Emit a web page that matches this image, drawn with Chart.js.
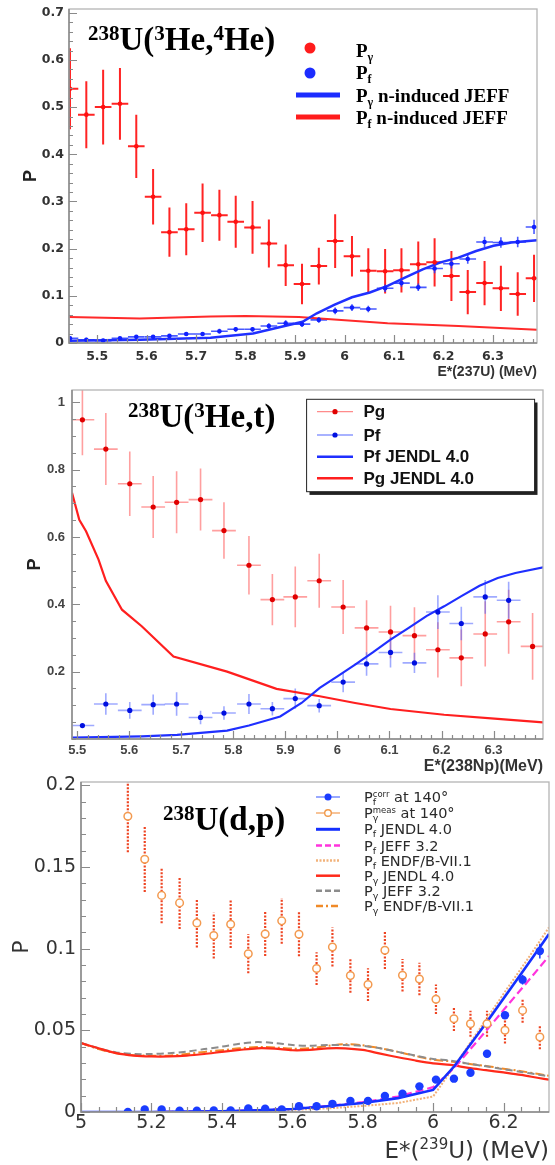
<!DOCTYPE html>
<html><head><meta charset="utf-8">
<script src="https://cdn.jsdelivr.net/npm/chart.js@4.4.1/dist/chart.umd.min.js"></script>
<style>
html,body{margin:0;padding:0;background:#fff;}
body{width:555px;height:1165px;position:relative;overflow:hidden;}
canvas{position:absolute;left:0;}
</style></head><body>
<canvas id="c1" width="555" height="385" style="top:0px"></canvas>
<canvas id="c2" width="555" height="390" style="top:385px"></canvas>
<canvas id="c3" width="555" height="390" style="top:775px"></canvas>
<script>
// ================= Panel 1 : 238U(3He,4He) =================
const P1_E = [5.445,5.478,5.512,5.546,5.579,5.613,5.646,5.680,5.713,5.747,5.780,5.814,5.847,5.881,5.914,5.948,5.981,6.015,6.048,6.082,6.115,6.149,6.182,6.216,6.249,6.283,6.316,6.350,6.383];
const P1_PG = [0.539,0.484,0.500,0.507,0.417,0.310,0.235,0.241,0.276,0.271,0.257,0.245,0.211,0.165,0.125,0.163,0.216,0.184,0.153,0.152,0.154,0.167,0.171,0.142,0.108,0.127,0.116,0.104,0.137];
const P1_PG_ERR = [0.086,0.071,0.079,0.076,0.067,0.059,0.052,0.055,0.062,0.054,0.055,0.056,0.051,0.044,0.043,0.039,0.057,0.043,0.048,0.047,0.047,0.048,0.051,0.053,0.047,0.047,0.048,0.046,0.050];
const P1_PF = [0.010,0.007,0.005,0.010,0.013,0.013,0.015,0.019,0.019,0.025,0.029,0.029,0.036,0.042,0.040,0.049,0.068,0.075,0.072,0.116,0.127,0.118,0.158,0.168,0.178,0.214,0.213,0.214,0.246];
const P1_PF_ERR = [0.004,0.004,0.004,0.004,0.004,0.004,0.004,0.004,0.004,0.005,0.005,0.005,0.006,0.006,0.006,0.006,0.007,0.007,0.007,0.008,0.008,0.008,0.010,0.010,0.010,0.011,0.011,0.011,0.015];
const P1_BLUE_E = [5.443,5.586,5.729,5.815,5.915,5.944,5.979,6.015,6.051,6.087,6.123,6.158,6.194,6.230,6.266,6.301,6.337,6.389];
const P1_BLUE = [0.005,0.007,0.011,0.020,0.045,0.063,0.081,0.097,0.107,0.121,0.139,0.156,0.171,0.181,0.195,0.206,0.213,0.218];
const P1_RED_E = [5.443,5.586,5.729,5.800,5.908,5.979,6.087,6.230,6.389];
const P1_RED = [0.055,0.052,0.056,0.057,0.055,0.050,0.042,0.036,0.028];
const P1_XTICKS = [5.5,5.6,5.7,5.8,5.9,6.0,6.1,6.2,6.3];
const P1_YTICKS = [0,0.1,0.2,0.3,0.4,0.5,0.6,0.7];

// ================= Panel 2 : 238U(3He,t) =================
const P2_E = [5.510,5.555,5.601,5.646,5.691,5.737,5.782,5.830,5.875,5.919,5.965,6.011,6.056,6.102,6.148,6.193,6.238,6.284,6.329,6.375];
const P2_PG = [0.948,0.861,0.758,0.689,0.703,0.711,0.619,0.516,0.414,0.422,0.470,0.392,0.330,0.318,0.307,0.265,0.241,0.312,0.348,0.275];
const P2_PG_ERR = [0.105,0.107,0.096,0.092,0.092,0.092,0.084,0.087,0.076,0.090,0.080,0.080,0.082,0.078,0.084,0.082,0.084,0.097,0.095,0.099];
const P2_PF = [0.040,0.104,0.085,0.102,0.104,0.064,0.077,0.104,0.090,0.120,0.099,0.169,0.223,0.257,0.226,0.377,0.343,0.422,0.412];
const P2_PF_ERR = [0.004,0.032,0.025,0.030,0.035,0.020,0.020,0.030,0.020,0.030,0.020,0.030,0.035,0.045,0.030,0.050,0.050,0.050,0.055];
const P2_PF_JENDL_E = [5.490,5.624,5.692,5.788,5.830,5.890,5.931,5.966,6.000,6.034,6.068,6.102,6.137,6.171,6.205,6.239,6.273,6.308,6.342,6.398];
const P2_PF_JENDL = [0.004,0.008,0.012,0.025,0.040,0.067,0.107,0.152,0.186,0.221,0.257,0.295,0.330,0.365,0.394,0.425,0.455,0.478,0.493,0.511];
const P2_PG_JENDL_E = [5.490,5.504,5.517,5.541,5.555,5.586,5.624,5.685,5.788,5.883,5.966,6.034,6.102,6.205,6.308,6.398];
const P2_PG_JENDL = [0.731,0.651,0.617,0.533,0.470,0.384,0.335,0.245,0.200,0.149,0.127,0.107,0.089,0.072,0.060,0.049];
const P2_XTICKS = [5.5,5.6,5.7,5.8,5.9,6.0,6.1,6.2,6.3];
const P2_YTICKS = [0.2,0.4,0.6,0.8,1.0];

// ================= Panel 3 : 238U(d,p) =================
const P3_E = [5.133,5.181,5.229,5.280,5.329,5.377,5.425,5.475,5.523,5.570,5.619,5.669,5.714,5.765,5.815,5.863,5.913,5.961,6.008,6.059,6.106,6.153,6.204,6.254,6.303];
const P3_PG_MEAS = [0.181,0.1547,0.1326,0.128,0.1157,0.108,0.1149,0.0969,0.109,0.117,0.1088,0.0878,0.101,0.0835,0.078,0.099,0.0837,0.0814,0.069,0.0571,0.054,0.054,0.050,0.0622,0.0459];
const P3_PG_MEAS_ERR = [0.022,0.020,0.017,0.016,0.015,0.014,0.0145,0.012,0.0135,0.014,0.0135,0.010,0.012,0.0105,0.010,0.0115,0.010,0.010,0.009,0.0075,0.008,0.008,0.008,0.0075,0.0075];
const P3_PF_CORR = [0.0,0.0015,0.0015,0.0008,0.0008,0.001,0.001,0.0022,0.002,0.0015,0.0035,0.0035,0.005,0.0068,0.0068,0.0098,0.0112,0.0157,0.0198,0.0204,0.024,0.0357,0.0592,0.081,0.0985];
const P3_PF_CORR_ERR = [0.0005,0.0005,0.0005,0.0005,0.0005,0.0005,0.0005,0.0005,0.0005,0.0005,0.0005,0.0005,0.0006,0.0006,0.0006,0.0008,0.0008,0.001,0.001,0.001,0.0012,0.0015,0.002,0.003,0.0045];
const P3_PF_E = [5.0,5.1,5.2,5.3,5.4,5.5,5.6,5.7,5.8,5.9,6.0,6.06,6.15,6.21,6.26,6.30,6.329];
const P3_PF_JENDL = [0,0,0,0.0002,0.0005,0.001,0.0018,0.0035,0.0055,0.0085,0.0135,0.028,0.0543,0.0725,0.0877,0.0999,0.109];
const P3_PF_JEFF = [0,0,0,0.0002,0.0005,0.0011,0.002,0.0037,0.006,0.0095,0.0152,0.027,0.0496,0.065,0.0777,0.088,0.0955];
const P3_PF_ENDF = [0,0,0,0.0002,0.0004,0.0008,0.0013,0.0022,0.0037,0.0055,0.0095,0.028,0.0565,0.0755,0.091,0.1037,0.113];
const P3_PG_E = [5.0,5.05,5.1,5.15,5.2,5.25,5.3,5.35,5.4,5.45,5.5,5.55,5.6,5.65,5.7,5.75,5.8,5.85,5.9,5.95,6.0,6.05,6.1,6.15,6.2,6.25,6.3,6.329];
const P3_PG_JENDL = [0.0422,0.039,0.036,0.0345,0.034,0.034,0.0345,0.0355,0.0368,0.038,0.039,0.0388,0.0378,0.038,0.039,0.039,0.038,0.0357,0.0335,0.0315,0.0298,0.0288,0.027,0.0256,0.0242,0.0227,0.0208,0.0198];
const P3_PG_JEFF = [0.0422,0.039,0.0365,0.0355,0.0355,0.036,0.037,0.0385,0.040,0.0418,0.0428,0.0422,0.041,0.0405,0.041,0.041,0.0405,0.039,0.0368,0.0345,0.0325,0.0315,0.0296,0.028,0.0262,0.0245,0.0228,0.0218];
const P3_PG_ENDF = [0.0422,0.0385,0.036,0.0348,0.0345,0.0345,0.0355,0.0368,0.0378,0.039,0.0398,0.0395,0.0388,0.039,0.0405,0.0415,0.0408,0.039,0.0368,0.0343,0.032,0.031,0.0295,0.0282,0.0265,0.025,0.0232,0.0222];
const P3_XTICKS = [5.0,5.2,5.4,5.6,5.8,6.0,6.2];
const P3_YTICKS = [0,0.05,0.1,0.15,0.2];

// ---------------- helpers ----------------
const pts = (xs, ys) => ys.map((v, i) => ({x: xs[i], y: v}));
const fmt = v => String(parseFloat(Number(v).toFixed(3)));

function richWidth(ctx, runs){ let w = 0; runs.forEach(r => { ctx.font = r.f; const m = ctx.measureText(r.t).width; if (r.adv !== false) w += m; }); return w; }
function drawRich(ctx, x, y, runs, align, color){
  ctx.save(); ctx.fillStyle = color || '#000'; ctx.textAlign = 'left'; ctx.textBaseline = 'alphabetic';
  let cx = align === 'right' ? x - richWidth(ctx, runs) : x;
  runs.forEach(r => { ctx.font = r.f; ctx.fillText(r.t, cx, y + (r.dy || 0)); if (r.adv !== false) cx += ctx.measureText(r.t).width; });
  ctx.restore();
}
function sampleLine(ctx, x1, x2, y, color, w, dash){
  ctx.save(); ctx.strokeStyle = color; ctx.lineWidth = w; ctx.setLineDash(dash || []);
  ctx.beginPath(); ctx.moveTo(x1, y); ctx.lineTo(x2, y); ctx.stroke(); ctx.restore();
}
function dot(ctx, x, y, r, fill, stroke, lw){
  ctx.save(); ctx.beginPath(); ctx.arc(x, y, r, 0, Math.PI * 2);
  if (fill) { ctx.fillStyle = fill; ctx.fill(); }
  if (stroke) { ctx.strokeStyle = stroke; ctx.lineWidth = lw || 1; ctx.stroke(); }
  ctx.restore();
}

// frame + inward ticks (ROOT style)
const frameTicks = {
  id: 'frameTicks',
  afterDatasetsDraw(chart, args, o){
    const {ctx, chartArea: a, scales: {x, y}} = chart;
    ctx.save();
    ctx.strokeStyle = o.frameColor; ctx.lineWidth = 1.3;
    ctx.strokeRect(a.left, a.top, a.right - a.left, a.bottom - a.top);
    ctx.strokeStyle = o.axisColor; ctx.lineWidth = 1.5;
    ctx.beginPath(); ctx.moveTo(a.left, a.top); ctx.lineTo(a.left, a.bottom); ctx.lineTo(a.right, a.bottom); ctx.stroke();
    ctx.strokeStyle = o.tickColor; ctx.lineWidth = 1.2;
    const isMajor = (v, arr) => arr.some(m => Math.abs(m - v) < 1e-6);
    const xMaj = x.ticks.map(t => t.value), yMaj = y.ticks.map(t => t.value);
    ctx.beginPath();
    for (let k = Math.ceil(x.min / o.xMinor - 1e-6); k * o.xMinor <= x.max + 1e-9; k++) {
      const v = k * o.xMinor; const px = Math.round(x.getPixelForValue(v)) + 0.5;
      const L = isMajor(v, xMaj) ? o.major : o.minor;
      ctx.moveTo(px, a.bottom); ctx.lineTo(px, a.bottom - L);
    }
    for (let k = Math.ceil(y.min / o.yMinor - 1e-6); k * o.yMinor <= y.max + 1e-9; k++) {
      const v = k * o.yMinor; const py = Math.round(y.getPixelForValue(v)) + 0.5;
      const L = isMajor(v, yMaj) ? o.major : o.minor;
      ctx.moveTo(a.left, py); ctx.lineTo(a.left + L, py);
    }
    ctx.stroke();
    ctx.restore();
  }
};

// error bars drawn through the scales
const errorBars = {
  id: 'errorBars',
  beforeDatasetsDraw(chart){
    const {ctx, chartArea: a, scales: {x, y}} = chart;
    ctx.save(); ctx.beginPath(); ctx.rect(a.left, a.top, a.right - a.left, a.bottom - a.top); ctx.clip();
    chart.data.datasets.forEach(ds => {
      if (!ds.errY) return;
      ctx.strokeStyle = ds.errColor; ctx.lineWidth = ds.errWidth; ctx.setLineDash(ds.errDash || []);
      ds.data.forEach((p, i) => {
        const px = x.getPixelForValue(p.x), py = y.getPixelForValue(p.y), e = ds.errY[i];
        ctx.beginPath();
        ctx.moveTo(px, y.getPixelForValue(p.y - e)); ctx.lineTo(px, y.getPixelForValue(p.y + e));
        if (ds.errX) { ctx.moveTo(x.getPixelForValue(p.x - ds.errX), py); ctx.lineTo(x.getPixelForValue(p.x + ds.errX), py); }
        ctx.stroke();
      });
    });
    ctx.restore();
  }
};

function axes(o){
  return {
    x: { type: 'linear', min: o.xmin, max: o.xmax,
      afterBuildTicks: s => { s.ticks = o.xticks.map(v => ({value: v})); },
      afterFit: s => { s.height = o.xh; s.paddingLeft = 0; s.paddingRight = 0; },
      grid: {display: false, drawTicks: false}, border: {display: false},
      ticks: {font: o.tickFont, color: o.tickColor, padding: o.xpad, maxRotation: 0, autoSkip: false, callback: v => fmt(v)} },
    y: { type: 'linear', min: o.ymin, max: o.ymax,
      afterBuildTicks: s => { s.ticks = o.yticks.map(v => ({value: v})); },
      afterFit: s => { s.width = o.yw; s.paddingTop = 0; s.paddingBottom = 0; },
      grid: {display: false, drawTicks: false}, border: {display: false},
      ticks: {font: o.tickFont, color: o.tickColor, padding: o.ypad, autoSkip: false, callback: v => fmt(v)},
      title: {display: true, text: 'P', font: o.pFont, color: o.pColor, padding: {top: o.pPad, bottom: 0}} }
  };
}
const baseOpts = {animation: false, responsive: false, devicePixelRatio: 1, events: []};

// ---------------- Panel 1 ----------------
const p1Deco = {
  id: 'p1Deco',
  afterDraw(chart){
    const ctx = chart.ctx;
    const big = 'bold 33px "Liberation Serif"', sup = 'bold 21px "Liberation Serif"';
    drawRich(ctx, 88, 50, [{t:'238', f:sup, dy:-10},{t:'U(', f:big},{t:'3', f:sup, dy:-10},{t:'He,', f:big},{t:'4', f:sup, dy:-10},{t:'He)', f:big}], 'left', '#000');
    dot(ctx, 310, 48, 5.5, '#ff1c1c');
    dot(ctx, 310, 73, 5.5, '#1c2cff');
    sampleLine(ctx, 296, 340, 95, '#1c2cff', 5);
    sampleLine(ctx, 296, 340, 117, '#ff1c1c', 5);
    const lf = 'bold 19px "Liberation Serif"', sf = 'bold 12px "Liberation Serif"';
    drawRich(ctx, 356, 57, [{t:'P', f:lf},{t:'γ', f:sf, dy:4}], 'left', '#000');
    drawRich(ctx, 356, 79, [{t:'P', f:lf},{t:'f', f:sf, dy:4}], 'left', '#000');
    drawRich(ctx, 356, 102, [{t:'P', f:lf},{t:'γ', f:sf, dy:4},{t:' n-induced JEFF', f:lf}], 'left', '#000');
    drawRich(ctx, 356, 124, [{t:'P', f:lf},{t:'f', f:sf, dy:4},{t:' n-induced JEFF', f:lf}], 'left', '#000');
    drawRich(ctx, chart.chartArea.right, 376, [{t:'E*(237U) (MeV)', f:'bold 14px "Liberation Sans"'}], 'right', '#333');
  }
};
new Chart(document.getElementById('c1'), {
  type: 'scatter',
  data: { datasets: [
    {data: pts(P1_E, P1_PG), errY: P1_PG_ERR, errX: 0.0168, errColor: '#ff2424', errWidth: 2, pointRadius: 2.3, pointBackgroundColor: '#ff1010', pointBorderWidth: 0, showLine: false},
    {data: pts(P1_E, P1_PF), errY: P1_PF_ERR, errX: 0.0168, errColor: 'rgba(40,60,255,0.85)', errWidth: 1.6, pointRadius: 2.3, pointBackgroundColor: '#1020ff', pointBorderWidth: 0, showLine: false},
    {data: pts(P1_BLUE_E, P1_BLUE), showLine: true, borderColor: '#2030ff', borderWidth: 2.5, pointRadius: 0, tension: 0},
    {data: pts(P1_RED_E, P1_RED), showLine: true, borderColor: '#ff2a2a', borderWidth: 2, pointRadius: 0, tension: 0}
  ]},
  options: Object.assign({}, baseOpts, {
    layout: {padding: {top: 9, right: 18, left: 0, bottom: 0}},
    scales: axes({xmin: 5.443, xmax: 6.389, ymin: 0, ymax: 0.708, xticks: P1_XTICKS, yticks: P1_YTICKS, xh: 42, yw: 69,
      tickFont: {family: 'DejaVu Sans', size: 12.5, weight: 'bold'}, tickColor: '#333', xpad: 6, ypad: 5,
      pFont: {family: 'Liberation Sans', size: 18, weight: 'bold'}, pColor: '#222', pPad: 20}),
    plugins: {legend: {display: false}, tooltip: {enabled: false},
      frameTicks: {frameColor: '#b4b4b4', axisColor: '#8a8a8a', tickColor: '#8a8a8a', xMinor: 0.02, yMinor: 0.02, major: 8, minor: 4}}
  }),
  plugins: [errorBars, frameTicks, p1Deco]
});

// ---------------- Panel 2 ----------------
const p2Deco = {
  id: 'p2Deco',
  afterDraw(chart){
    const ctx = chart.ctx, oy = 385; // canvas offset on page
    const big = 'bold 33px "Liberation Serif"', sup = 'bold 21px "Liberation Serif"';
    drawRich(ctx, 128, 426.7 - oy, [{t:'238', f:sup, dy:-10},{t:'U(', f:big},{t:'3', f:sup, dy:-10},{t:'He,t)', f:big}], 'left', '#000');
    // legend box with shadow
    ctx.save();
    ctx.fillStyle = '#222'; ctx.fillRect(309.5, 402.5 - oy, 228, 92.4);
    ctx.fillStyle = '#fff'; ctx.fillRect(306.6, 399.3 - oy, 228, 92.4);
    ctx.strokeStyle = '#222'; ctx.lineWidth = 1; ctx.strokeRect(306.6, 399.3 - oy, 228, 92.4);
    ctx.restore();
    const rows = [411.7, 435, 456.7, 478.3].map(v => v - oy);
    sampleLine(ctx, 317, 353, rows[0], 'rgba(255,90,90,0.7)', 1.3); dot(ctx, 335, rows[0], 2.6, '#e00000');
    sampleLine(ctx, 317, 353, rows[1], 'rgba(90,110,255,0.7)', 1.3); dot(ctx, 335, rows[1], 2.6, '#0010e0');
    sampleLine(ctx, 317, 353, rows[2], '#1f2fff', 2.5);
    sampleLine(ctx, 317, 353, rows[3], '#ff1f1f', 2.5);
    ctx.save(); ctx.font = 'bold 17px "Liberation Sans"'; ctx.fillStyle = '#111'; ctx.textBaseline = 'middle';
    ['Pg', 'Pf', 'Pf JENDL 4.0', 'Pg JENDL 4.0'].forEach((t, i) => ctx.fillText(t, 363.5, rows[i] + 1));
    ctx.restore();
    drawRich(ctx, chart.chartArea.right, 771 - oy, [{t:'E*(238Np)(MeV)', f:'bold 16px "Liberation Sans"'}], 'right', '#333');
  }
};
new Chart(document.getElementById('c2'), {
  type: 'scatter',
  data: { datasets: [
    {data: pts(P2_E, P2_PG), errY: P2_PG_ERR, errX: 0.0228, errColor: 'rgba(255,80,80,0.55)', errWidth: 1.6, pointRadius: 2.6, pointBackgroundColor: '#e00000', pointBorderWidth: 0, showLine: false},
    {data: pts(P2_E, P2_PF), errY: P2_PF_ERR, errX: 0.0228, errColor: 'rgba(80,100,255,0.55)', errWidth: 1.6, pointRadius: 2.6, pointBackgroundColor: '#0010e0', pointBorderWidth: 0, showLine: false},
    {data: pts(P2_PF_JENDL_E, P2_PF_JENDL), showLine: true, borderColor: '#1f2fff', borderWidth: 2.2, pointRadius: 0, tension: 0},
    {data: pts(P2_PG_JENDL_E, P2_PG_JENDL), showLine: true, borderColor: '#ff1f1f', borderWidth: 2.2, pointRadius: 0, tension: 0}
  ]},
  options: Object.assign({}, baseOpts, {
    layout: {padding: {top: 5, right: 12, left: 0, bottom: 0}},
    scales: axes({xmin: 5.49, xmax: 6.395, ymin: 0, ymax: 1.0365, xticks: P2_XTICKS, yticks: P2_YTICKS, xh: 36, yw: 72,
      tickFont: {family: 'Liberation Sans', size: 13, weight: 'bold'}, tickColor: '#444', xpad: 4, ypad: 7,
      pFont: {family: 'Liberation Sans', size: 18, weight: 'bold'}, pColor: '#222', pPad: 24}),
    plugins: {legend: {display: false}, tooltip: {enabled: false},
      frameTicks: {frameColor: '#b4b4b4', axisColor: '#8a8a8a', tickColor: '#8a8a8a', xMinor: 0.02, yMinor: 0.05, major: 8, minor: 4}}
  }),
  plugins: [errorBars, frameTicks, p2Deco]
});

// ---------------- Panel 3 ----------------
const p3Deco = {
  id: 'p3Deco',
  afterDraw(chart){
    const ctx = chart.ctx, oy = 775;
    const big = 'bold 33px "Liberation Serif"', sup = 'bold 21px "Liberation Serif"';
    drawRich(ctx, 163, 830 - oy, [{t:'238', f:sup, dy:-10},{t:'U(d,p)', f:big}], 'left', '#000');
    const rows = [797, 813, 829.3, 845.5, 860.5, 875.7, 890.7, 906].map(v => v - oy);
    const x1 = 316, x2 = 340, xm = 328;
    sampleLine(ctx, x1, x2, rows[0], 'rgba(60,90,255,0.7)', 1.5); dot(ctx, xm, rows[0], 3.5, '#1a3cff');
    sampleLine(ctx, x1, x2, rows[1], '#f3a35f', 1.3); dot(ctx, xm, rows[1], 3.3, '#fff', '#f0994a', 1.4);
    sampleLine(ctx, x1, x2, rows[2], '#1530ff', 3);
    sampleLine(ctx, x1, x2, rows[3], '#ff33dd', 2.5, [6, 3]);
    sampleLine(ctx, x1, x2, rows[4], '#f2b27a', 2.5, [2, 1.5]);
    sampleLine(ctx, x1, x2, rows[5], '#ff2a1a', 2.5);
    sampleLine(ctx, x1, x2, rows[6], '#8c8c8c', 2.5, [6, 3]);
    sampleLine(ctx, x1, x2, rows[7], '#f08a28', 2.5, [7, 3, 2, 3]);
    const f = '14.5px "DejaVu Sans"', s = '9.5px "DejaVu Sans"', u = '8.5px "DejaVu Sans"';
    const L = [
      [{t:'P', f},{t:'f', f:s, dy:3, adv:false},{t:'corr', f:u, dy:-5},{t:' at 140°', f}],
      [{t:'P', f},{t:'γ', f:s, dy:3, adv:false},{t:'meas', f:u, dy:-5},{t:' at 140°', f}],
      [{t:'P', f},{t:'f', f:s, dy:3},{t:' JENDL 4.0', f}],
      [{t:'P', f},{t:'f', f:s, dy:3},{t:' JEFF 3.2', f}],
      [{t:'P', f},{t:'f', f:s, dy:3},{t:' ENDF/B-VII.1', f}],
      [{t:'P', f},{t:'γ', f:s, dy:3},{t:' JENDL 4.0', f}],
      [{t:'P', f},{t:'γ', f:s, dy:3},{t:' JEFF 3.2', f}],
      [{t:'P', f},{t:'γ', f:s, dy:3},{t:' ENDF/B-VII.1', f}]
    ];
    L.forEach((r, i) => drawRich(ctx, 364, rows[i] + 5, r, 'left', '#2a2a2a'));
    const tf = '23px "DejaVu Sans"';
    drawRich(ctx, chart.chartArea.right, 1158 - oy, [{t:'E*(', f:tf},{t:'239', f:'15px "DejaVu Sans"', dy:-9},{t:'U) (MeV)', f:tf}], 'right', '#333');
  }
};
new Chart(document.getElementById('c3'), {
  type: 'scatter',
  data: { datasets: [
    {data: pts(P3_E, P3_PF_CORR), errY: P3_PF_CORR_ERR, errColor: '#1a3cff', errWidth: 1.5, pointRadius: 4.2, pointBackgroundColor: '#1a3cff', pointBorderWidth: 0, showLine: false},
    {data: pts(P3_E, P3_PG_MEAS), errY: P3_PG_MEAS_ERR, errColor: '#ee4422', errWidth: 2.2, errDash: [2, 1.5], pointRadius: 3.8, pointBackgroundColor: '#fff', pointBorderColor: '#f39a50', pointBorderWidth: 1.5, showLine: false},
    {data: pts(P3_PF_E, P3_PF_JENDL), showLine: true, borderColor: '#1530ff', borderWidth: 2.6, pointRadius: 0, tension: 0},
    {data: pts(P3_PF_E, P3_PF_JEFF), showLine: true, borderColor: '#ff33dd', borderWidth: 2.2, borderDash: [8, 4], pointRadius: 0, tension: 0},
    {data: pts(P3_PF_E, P3_PF_ENDF), showLine: true, borderColor: '#f2b27a', borderWidth: 2, borderDash: [2, 1.5], pointRadius: 0, tension: 0},
    {data: pts(P3_PG_E, P3_PG_JENDL), showLine: true, borderColor: '#ff2a1a', borderWidth: 2.2, pointRadius: 0, tension: 0.3},
    {data: pts(P3_PG_E, P3_PG_JEFF), showLine: true, borderColor: '#8c8c8c', borderWidth: 2, borderDash: [7, 4], pointRadius: 0, tension: 0.3},
    {data: pts(P3_PG_E, P3_PG_ENDF), showLine: true, borderColor: '#f08a28', borderWidth: 2, borderDash: [9, 3, 2, 3], pointRadius: 0, tension: 0.3}
  ]},
  options: Object.assign({}, baseOpts, {
    layout: {padding: {top: 7, right: 6, left: 0, bottom: 0}},
    scales: axes({xmin: 5.0, xmax: 6.329, ymin: 0, ymax: 0.202, xticks: P3_XTICKS, yticks: P3_YTICKS, xh: 53, yw: 81,
      tickFont: {family: 'DejaVu Sans', size: 19}, tickColor: '#333', xpad: 0, ypad: 5,
      pFont: {family: 'DejaVu Sans', size: 22}, pColor: '#333', pPad: 9}),
    plugins: {legend: {display: false}, tooltip: {enabled: false},
      frameTicks: {frameColor: '#b4b4b4', axisColor: '#8a8a8a', tickColor: '#8a8a8a', xMinor: 0.05, yMinor: 0.01, major: 9, minor: 5}}
  }),
  plugins: [errorBars, frameTicks, p3Deco]
});
</script>
</body></html>
